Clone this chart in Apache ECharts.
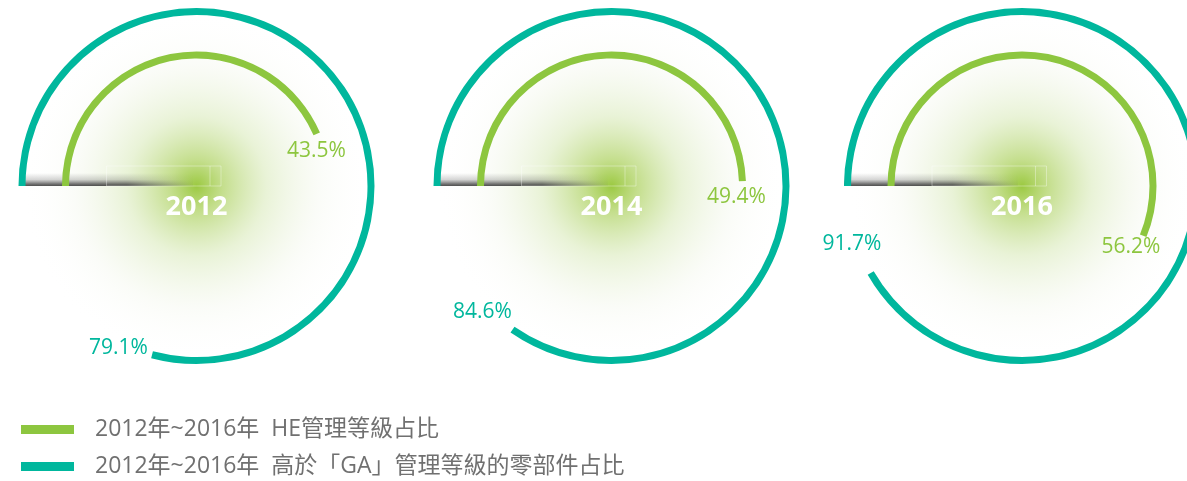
<!DOCTYPE html>
<html>
<head>
<meta charset="utf-8">
<script src="https://cdn.jsdelivr.net/npm/echarts@6/dist/echarts.min.js"></script>
<style>
html, body { margin: 0; padding: 0; background: #fff; }
#main { width: 1187px; height: 481px; }
</style>
</head>
<body>
<div id="main"></div>
<script>
// data
var years = ['2012', '2014', '2016'];
var heShare = [43.5, 49.4, 56.2];   // 內圈 HE管理等級占比
var gaShare = [79.1, 84.6, 91.7];   // 外圈 高於GA的零部件占比
var legendNames = ['2012年~2016年  HE管理等級占比', '2012年~2016年  高於「GA」管理等級的零部件占比'];

var GREEN = '#8dc63f';
var TEAL = '#00b79d';
var FONT = '"Open Sans", "Noto Sans CJK TC", sans-serif';

// layout
var centerX = [196.5, 611.5, 1022];
var centerY = 186;
var outerR = 178;
var innerR = 134.5;
var ringW = 7;

// label sits just past the end of the arc
function labelOffset(v, r, shift) {
    var a = (180 - v * 3.6 - shift) * Math.PI / 180;
    return [Math.round(r * Math.cos(a)), Math.round(-r * Math.sin(a))];
}

function ring(name, cx, value, year, radius, color, labR, shift, showTitle) {
    return {
        type: 'gauge',
        name: name,
        center: [cx, centerY],
        radius: radius,
        startAngle: 180,
        endAngle: -180,
        clockwise: true,
        min: 0,
        max: 100,
        z: 3,
        itemStyle: { color: color },
        progress: { show: true, width: ringW, roundCap: false, itemStyle: { color: color } },
        axisLine: { show: false },
        axisTick: { show: false },
        splitLine: { show: false },
        axisLabel: { show: false },
        pointer: { show: false },
        anchor: { show: false },
        title: {
            show: showTitle,
            offsetCenter: [0, 21],
            color: '#fff',
            fontSize: 27,
            fontWeight: 'bold',
            fontFamily: FONT
        },
        detail: {
            offsetCenter: labelOffset(value, labR, shift),
            formatter: '{value}%',
            color: color,
            fontSize: 21,
            fontWeight: 'normal',
            fontFamily: FONT,
            valueAnimation: false
        },
        data: [{ value: value, name: year }]
    };
}

var series = [];
var graphics = [];
for (var i = 0; i < years.length; i++) {
    var cx = centerX[i];
    // 中心綠色光暈
    graphics.push({
        type: 'circle',
        z: 0,
        shape: { cx: cx, cy: centerY, r: 175 },
        style: {
            fill: {
                type: 'radial', x: 0.5, y: 0.5, r: 0.5,
                colorStops: [
                    { offset: 0, color: 'rgba(150,198,55,0.95)' },
                    { offset: 0.15, color: 'rgba(165,205,80,0.65)' },
                    { offset: 0.4, color: 'rgba(192,220,140,0.35)' },
                    { offset: 0.7, color: 'rgba(230,238,215,0.18)' },
                    { offset: 1, color: 'rgba(255,255,255,0)' }
                ]
            }
        },
        silent: true
    });
    // 左側陰影線
    var x0 = Math.round(cx - outerR);
    for (var x = x0; x < cx - 4; x++) {
        var dist = cx - x;
        var op = dist > 70 ? 1 : dist / 70;
        graphics.push({
            type: 'rect',
            z: 1,
            shape: { x: x, y: centerY - 13, width: 1, height: 13 },
            style: {
                fill: {
                    type: 'linear', x: 0, y: 0, x2: 0, y2: 1,
                    colorStops: [
                        { offset: 0, color: 'rgba(90,90,90,0)' },
                        { offset: 0.5, color: 'rgba(90,90,90,0.25)' },
                        { offset: 0.85, color: 'rgba(65,65,65,0.75)' },
                        { offset: 1, color: 'rgba(60,60,60,0.9)' }
                    ]
                },
                opacity: op
            },
            silent: true
        });
    }
    // 淡白框
    graphics.push({
        type: 'rect',
        z: 1,
        shape: { x: cx - 90, y: centerY - 20, width: 114.5, height: 20 },
        style: { fill: null, stroke: 'rgba(255,255,255,0.35)', lineWidth: 1 },
        silent: true
    });
    graphics.push({
        type: 'line',
        z: 1,
        shape: { x1: cx + 13.5, y1: centerY - 20, x2: cx + 13.5, y2: centerY },
        style: { stroke: 'rgba(255,255,255,0.35)', lineWidth: 1 },
        silent: true
    });

    series.push(ring(legendNames[1], cx, gaShare[i], years[i], outerR, TEAL, 180, 11, true));
    series.push(ring(legendNames[0], cx, heShare[i], years[i], innerR, GREEN, 125, 7, false));
}

function legendRow(name, color, top) {
    return {
        left: 21,
        top: top,
        padding: 0,
        icon: 'rect',
        itemWidth: 53,
        itemHeight: 9,
        selectedMode: false,
        textStyle: {
            color: '#707070',
            fontSize: 23,
            lineHeight: 23,
            fontFamily: FONT,
            padding: [0, 0, 0, 16]
        },
        data: [{ name: name, itemStyle: { color: color } }]
    };
}

var myChart = echarts.init(document.getElementById('main'));
myChart.setOption({
    backgroundColor: '#fff',
    animation: false,
    legend: [
        legendRow(legendNames[0], GREEN, 418),
        legendRow(legendNames[1], TEAL, 455)
    ],
    graphic: graphics,
    series: series
});
</script>
</body>
</html>
